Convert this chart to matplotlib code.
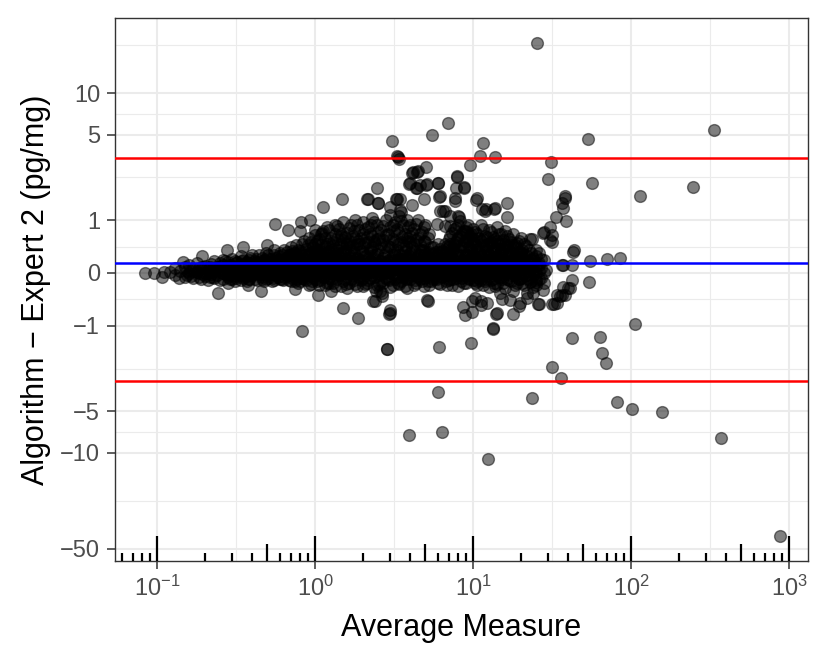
import numpy as np
import matplotlib
matplotlib.use("Agg")
import matplotlib.pyplot as plt
from matplotlib.ticker import FixedLocator, NullFormatter

plt.rcParams['font.family'] = ['Liberation Sans', 'DejaVu Sans']
plt.rcParams['mathtext.fontset'] = 'custom'
plt.rcParams['mathtext.rm'] = 'Liberation Sans'
plt.rcParams['mathtext.it'] = 'Liberation Sans:italic'

# dense core of the cloud: one x per column, several y per column
col_x = [0.12, 0.13, 0.14, 0.15, 0.16, 0.17, 0.18, 0.19, 0.2, 0.21, 0.22, 0.23, 0.24, 0.26, 0.28,
         0.3, 0.32, 0.34, 0.36, 0.38, 0.4, 0.43, 0.46, 0.49, 0.52, 0.55, 0.58, 0.62, 0.66, 0.7,
         0.74, 0.78, 0.83, 0.88, 0.94,
         1.0, 1.06, 1.12, 1.19, 1.26, 1.33, 1.41, 1.5, 1.6, 1.7, 1.8, 1.9, 2.0, 2.15, 2.3, 2.45,
         2.6, 2.8, 3.0, 3.2, 3.4, 3.6, 3.8,
         4.0, 4.25, 4.5, 4.75, 5.0, 5.3, 5.6, 6.0, 6.4, 6.8, 7.2, 7.6, 8.0, 8.5, 9.0, 9.5,
         10, 10.6, 11.2, 11.9, 12.6, 13.3, 14.1, 15, 16, 17, 18, 19, 20,
         21, 22.5, 24, 26, 28]
col_y = [[0.02], [-0.03, 0.08], [0.04], [-0.06, 0.1], [0.0, 0.14], [-0.08, 0.06], [0.02, 0.16],
         [-0.1, 0.08], [0.0, 0.12, -0.05], [0.06, -0.12], [0.15, -0.02], [0.04, -0.08, 0.2],
         [0.1, -0.04], [0.0, 0.14, -0.1, 0.22], [0.06, -0.06, 0.18],
         [0.0, 0.12, -0.1, 0.24], [0.06, -0.05, 0.18], [0.1, -0.12, 0.0, 0.28], [0.04, 0.16, -0.06],
         [0.12, -0.1, 0.22, 0.0], [0.06, -0.04, 0.3, 0.14], [0.0, 0.18, -0.12, 0.1],
         [0.08, -0.06, 0.26, 0.16], [0.02, 0.2, -0.1, 0.34], [0.1, -0.02, 0.24],
         [0.04, 0.16, -0.12, 0.3, 0.4], [0.12, -0.06, 0.22], [0.0, 0.18, 0.3, -0.1],
         [0.08, 0.36, -0.04, 0.2], [0.14, 0.02, 0.28, -0.14, 0.44], [0.06, 0.22, -0.06, 0.34],
         [0.12, 0.0, 0.4, -0.16, 0.26], [0.18, 0.06, 0.5, -0.08], [0.1, 0.3, -0.12, 0.42, 0.02],
         [0.2, 0.0, 0.55, -0.18, 0.36],
         [0.1, -0.1, 0.3, 0.0, 0.5, 0.68, 0.2], [0.04, 0.22, -0.2, 0.4, 0.6],
         [0.14, -0.06, 0.32, 0.75, 0.02], [0.08, 0.26, -0.16, 0.5, 0.85],
         [0.18, 0.0, 0.4, -0.1, 0.62], [0.1, 0.3, -0.22, 0.7, 0.05, 0.9],
         [0.2, -0.04, 0.45, 0.0, 0.8], [0.12, 0.35, -0.14, 0.58, 0.96],
         [0.06, 0.24, -0.26, 0.5, 0.72, 0.14], [0.16, 0.0, 0.4, 0.88, -0.1],
         [0.1, 0.3, -0.18, 0.62, 1.0], [0.2, 0.04, 0.5, -0.06, 0.78],
         [0.12, 0.34, -0.22, 0.7, 0.95, 0.0], [0.06, 0.26, -0.12, 0.55, 0.85],
         [0.18, -0.04, 0.44, 1.05, 0.66], [0.1, 0.32, -0.2, 0.6, 0.9, 0.0],
         [0.2, 0.02, 0.5, -0.14, 0.78], [0.08, 0.36, -0.08, 0.68, 1.0, 0.16],
         [0.14, 0.0, 0.44, -0.24, 0.84], [0.22, 0.06, 0.56, -0.1, 0.95, 0.32],
         [0.1, 0.3, -0.18, 0.72, 1.1], [0.18, 0.0, 0.48, -0.06, 0.88],
         [0.06, 0.26, -0.26, 0.62, 1.0, 0.14],
         [0.12, -0.1, 0.34, 0.66, 0.02, 0.9], [0.2, 0.0, 0.5, -0.2, 0.8],
         [0.08, 0.28, -0.06, 0.62, 1.0, 0.16], [0.16, -0.14, 0.4, 0.74],
         [0.06, 0.24, -0.04, 0.55, 0.9], [0.14, 0.0, 0.36, -0.2, 0.7], [0.2, 0.04, 0.45, -0.1],
         [0.1, 0.3, -0.16, 0.02, 0.5], [0.16, -0.06, 0.38, 0.06], [0.08, 0.24, -0.2, 0.46, 0.0],
         [0.14, 0.02, 0.4, -0.1, 0.66], [0.2, -0.04, 0.5, 0.8, 0.1],
         [0.06, 0.3, -0.22, 0.62, 0.9], [0.16, 0.0, 0.44, -0.08, 0.72],
         [0.1, 0.3, -0.16, 0.56, 0.84, 0.2], [0.18, -0.04, 0.4, 0.66, 0.04],
         [0.12, -0.12, 0.34, 0.6, 0.0, 0.8], [0.2, 0.04, 0.46, -0.2, 0.7],
         [0.08, 0.28, -0.06, 0.56, 0.9], [0.16, -0.14, 0.38, 0.66, 0.0],
         [0.1, 0.3, -0.24, 0.5, 0.78], [0.2, 0.0, 0.44, -0.1, 0.64],
         [0.06, 0.26, -0.18, 0.56, 0.84], [0.14, -0.06, 0.38, 0.7, 0.02],
         [0.22, 0.04, -0.26, 0.5, 0.76], [0.1, 0.32, -0.12, 0.6],
         [0.18, -0.02, 0.44, -0.3, 0.7], [0.06, 0.28, -0.16, 0.52], [0.14, -0.08, 0.36, 0.62],
         [0.1, -0.2, 0.3, 0.5], [0.2, -0.04, 0.4], [0.04, 0.26, -0.24], [0.14, -0.1, 0.34],
         [0.0, 0.22, -0.16]]

# second set of columns, between the first ones
col2_x = [0.155, 0.185, 0.215, 0.25, 0.27, 0.29, 0.31, 0.33, 0.35, 0.37, 0.39,
          0.415, 0.445, 0.475, 0.505, 0.535, 0.565, 0.6, 0.64, 0.68, 0.72, 0.76, 0.805, 0.855,
          0.91, 0.97, 1.03, 1.09, 1.155, 1.225, 1.295, 1.37, 1.455, 1.55, 1.65, 1.75, 1.85, 1.95,
          2.07, 2.22, 2.37, 2.52, 2.7, 2.9, 3.1, 3.3, 3.5, 3.7, 3.9,
          4.12, 4.37, 4.62, 4.87, 5.15, 5.45, 5.8, 6.2, 6.6, 7.0, 7.4, 7.8,
          8.25, 8.75, 9.25, 9.75,
          10.3, 10.9, 11.55, 12.25, 12.95, 13.7, 14.55, 15.5, 16.5, 17.5, 18.5, 19.5,
          20.5, 21.7, 23.2, 25, 27]
col2_y = [[0.04, -0.04], [0.08, -0.06, 0.0], [0.02, 0.1, -0.07], [0.05, -0.12, 0.16],
          [0.1, -0.02, 0.2], [0.0, -0.1, 0.13],
          [0.08, -0.14, 0.2, 0.02], [0.14, -0.02, 0.04], [0.0, 0.22, -0.08, 0.1],
          [0.08, -0.14, 0.18], [0.02, 0.14, -0.04, 0.26],
          [0.1, -0.1, 0.2, 0.04], [0.06, -0.02, 0.3, 0.14], [0.12, -0.14, 0.0, 0.22],
          [0.06, 0.16, -0.08, 0.3], [0.0, 0.12, 0.2, -0.14], [0.08, -0.04, 0.26, 0.16],
          [0.04, 0.14, -0.1, 0.34, 0.22], [0.1, -0.06, 0.24, 0.02, 0.4],
          [0.0, 0.16, -0.12, 0.3, 0.08], [0.1, -0.02, 0.22, 0.38, 0.04],
          [0.18, -0.1, 0.06, 0.3, 0.48], [0.02, 0.14, -0.14, 0.34, 0.24],
          [0.1, -0.04, 0.24, 0.56, 0.0], [0.04, 0.16, -0.2, 0.32, 0.62],
          [0.12, -0.06, 0.26, 0.44, 0.02],
          [0.06, 0.18, -0.14, 0.36, 0.56, 0.0], [0.12, -0.04, 0.28, 0.48, 0.7],
          [0.02, 0.2, -0.2, 0.38, 0.1, 0.62], [0.14, -0.08, 0.3, 0.52, 0.04, 0.78],
          [0.06, 0.22, -0.16, 0.46, 0.0], [0.16, -0.02, 0.34, 0.6, 0.08, 0.86],
          [0.04, 0.26, -0.22, 0.5, 0.7], [0.18, 0.0, 0.38, -0.1, 0.64, 0.1],
          [0.08, 0.3, -0.16, 0.56, 0.82, 0.02], [0.2, -0.04, 0.44, 0.66, 0.1],
          [0.04, 0.26, -0.22, 0.5, 0.9, 0.14], [0.14, 0.0, 0.38, 0.62, -0.12],
          [0.08, 0.28, -0.18, 0.52, 0.8, 0.02], [0.2, 0.02, 0.42, -0.08, 0.7, 0.12],
          [0.04, 0.3, -0.24, 0.56, 0.96], [0.16, -0.04, 0.4, 0.74, 0.06],
          [0.1, 0.26, -0.16, 0.58, 0.86, 0.0], [0.2, 0.02, 0.46, -0.1, 0.7, 0.12],
          [0.06, 0.3, -0.2, 0.6, 0.9, 0.0], [0.16, -0.06, 0.4, 0.8, 0.08],
          [0.04, 0.24, -0.14, 0.54, 0.98, 0.14], [0.2, 0.0, 0.38, 0.7, -0.22],
          [0.1, 0.3, -0.08, 0.56, 0.84, 0.02],
          [0.16, -0.04, 0.44, 0.72, 0.06], [0.04, 0.26, -0.16, 0.58, 0.92, 0.12],
          [0.2, 0.0, 0.4, -0.1, 0.7], [0.08, 0.3, -0.22, 0.56, 0.84, 0.16],
          [0.14, -0.04, 0.34, 0.62, 0.02], [0.06, 0.24, -0.14, 0.44, 0.1],
          [0.18, 0.0, 0.36, -0.08, 0.1], [0.04, 0.22, -0.18, 0.42, 0.12],
          [0.14, -0.04, 0.3, 0.5, 0.02], [0.08, 0.24, -0.12, 0.44, 0.6, 0.16],
          [0.18, 0.0, 0.36, -0.2, 0.72], [0.06, 0.28, -0.08, 0.54, 0.82, 0.14],
          [0.14, -0.04, 0.4, 0.66, 0.02], [0.22, 0.04, 0.5, -0.16, 0.76, 0.1],
          [0.08, 0.3, -0.08, 0.6, 0.9], [0.16, -0.02, 0.42, 0.7, 0.04, 0.24],
          [0.06, 0.26, -0.16, 0.5, 0.74, 0.14], [0.18, 0.0, 0.38, -0.08, 0.62],
          [0.1, 0.3, -0.2, 0.48, 0.8, 0.02], [0.2, -0.04, 0.4, 0.64, 0.12],
          [0.06, 0.24, -0.12, 0.54, 0.74], [0.16, 0.0, 0.36, -0.22, 0.6, 0.08],
          [0.1, 0.3, -0.06, 0.48, 0.7], [0.2, 0.02, 0.4, -0.16, 0.58, 0.12],
          [0.08, 0.26, -0.1, 0.46, 0.66], [0.16, -0.04, 0.34, 0.54, 0.04],
          [0.1, 0.28, -0.2, 0.48], [0.2, 0.0, 0.36, -0.1, 0.56],
          [0.06, 0.24, -0.16, 0.4], [0.14, -0.04, 0.3, 0.46], [0.06, 0.22, -0.14, 0.34],
          [0.14, 0.0, -0.2, 0.28], [0.08, -0.08, 0.24]]

# third set of columns, filling the solid band
col3_x = [0.165, 0.195, 0.225, 0.255, 0.285, 0.315, 0.345, 0.38, 0.42, 0.46,
          0.5, 0.54, 0.59, 0.63, 0.67, 0.71, 0.75, 0.8, 0.85, 0.9,
          0.96, 1.02, 1.08, 1.15, 1.22, 1.3, 1.38, 1.47, 1.57, 1.67,
          1.77, 1.88, 2.0, 2.12, 2.25, 2.4, 2.55, 2.75, 2.95, 3.15,
          3.35, 3.55, 3.75, 4.0, 4.3, 4.6, 4.9, 5.2, 5.5, 5.9,
          6.3, 6.7, 7.1, 7.5, 7.9, 8.4, 8.9, 9.4, 10.0, 10.6,
          11.3, 12.0, 12.8, 13.6, 14.4, 15.3, 16.3, 17.3, 18.3, 19.4,
          20.8, 22.3, 24.0, 26.0]
col3_y = [[0.03, -0.05], [0.1, -0.02], [-0.06, 0.08], [0.02, 0.12], [-0.04, 0.1],
          [0.04, -0.08, 0.16], [0.1, -0.04, 0.2], [0.06, -0.1, 0.16], [0.0, 0.12, 0.24],
          [0.04, -0.1, 0.18],
          [0.1, -0.04, 0.26], [0.06, -0.08, 0.18], [0.0, 0.1, 0.28], [0.06, -0.12, 0.2],
          [0.12, -0.02, 0.26], [0.04, -0.08, 0.2, 0.32], [0.1, -0.14, 0.0, 0.28],
          [0.06, 0.2, -0.06, 0.38], [0.14, -0.1, 0.02, 0.3], [0.08, 0.22, -0.04, 0.48],
          [0.02, 0.16, -0.14, 0.34], [0.14, -0.02, 0.26, 0.42], [0.08, 0.18, -0.12, 0.34],
          [0.0, 0.24, 0.1, 0.46], [0.06, -0.16, 0.2, 0.36], [0.12, 0.0, 0.28, 0.54],
          [0.04, -0.1, 0.22, 0.4], [0.1, 0.3, -0.02, 0.66], [0.02, 0.16, -0.18, 0.44],
          [0.12, 0.26, 0.0, 0.5],
          [0.06, -0.12, 0.34, 0.76], [0.14, 0.0, 0.24, 0.56], [0.04, 0.2, -0.08, 0.46],
          [0.12, -0.16, 0.3, 0.64], [0.02, 0.16, 0.38, 0.88], [0.1, -0.06, 0.24, 0.5],
          [0.06, 0.2, -0.18, 0.62], [0.14, 0.0, 0.3, 0.44], [0.04, 0.22, -0.12, 0.58],
          [0.12, -0.02, 0.36, 0.76],
          [0.06, 0.2, -0.16, 0.5], [0.14, 0.02, 0.3, 0.64], [0.04, 0.24, -0.1, 0.46],
          [0.1, -0.04, 0.28, 0.54], [0.06, 0.18, -0.12, 0.38], [0.12, 0.0, 0.3, 0.5],
          [0.04, 0.22, -0.08, 0.4], [0.1, -0.14, 0.26, 0.04], [0.16, 0.02, 0.32, -0.06],
          [0.06, 0.2, -0.1, 0.28],
          [0.12, 0.0, 0.26, 0.36], [0.04, 0.18, -0.14, 0.32], [0.1, -0.02, 0.28, 0.5],
          [0.06, 0.22, -0.1, 0.42], [0.14, 0.0, 0.32, 0.6], [0.04, 0.2, -0.14, 0.48],
          [0.12, -0.04, 0.3, 0.56], [0.06, 0.22, -0.1, 0.44], [0.14, 0.0, 0.3, 0.52],
          [0.04, 0.18, -0.14, 0.4],
          [0.12, -0.04, 0.28, 0.58], [0.06, 0.22, -0.1, 0.46], [0.14, 0.0, 0.3, 0.52],
          [0.04, 0.18, -0.16, 0.4], [0.12, -0.04, 0.28, 0.5], [0.06, 0.22, -0.1, 0.42],
          [0.14, 0.0, 0.3, 0.48], [0.04, 0.18, -0.14, 0.36], [0.12, -0.04, 0.26, 0.44],
          [0.06, 0.2, -0.1, 0.34],
          [0.12, 0.0, 0.26], [0.04, 0.18, -0.1], [0.1, -0.04, 0.22], [0.04, 0.16]]

# scattered points outside the core
out_x = [0.084, 0.095, 0.107, 0.11, 0.138, 0.147, 0.192, 0.244, 0.283, 0.375, 0.454, 0.276, 0.352,
         0.494, 0.558, 0.747, 0.831, 1.05, 1.26, 1.51, 1.86, 2.98, 2.4, 2.64, 2.85, 1.13, 1.49,
         2.15, 2.46, 2.49, 3.29, 3.5, 4.09, 3.93, 3.34, 0.815, 0.93, 0.678, 0.8, 1.0, 1.11,
         25.3, 6.98, 5.5, 3.07, 3.3, 3.38, 11.6, 11.1, 13.8, 9.6, 5.04, 4.17, 4.42, 3.99, 4.4,
         5.04, 6.03, 7.92, 8.82, 4.9, 6.12, 3.45, 3.45, 4.09, 7.72, 6.48, 10.5, 11.4, 12.1, 13.6,
         16.3, 16.5, 8.1, 9.0, 7.1, 5.9, 31.3, 29.6, 53.7, 56.8, 38.2, 36.5, 33.3, 38.6, 28.2,
         31.4, 30.6, 43.5, 23.5, 114, 248, 337, 55, 70.2, 85,
         4.51, 4.36, 5.1, 7.87, 8.78, 2.12, 2.52, 3.25, 2.98, 6.19, 7.69, 10.6, 11.9, 8.09, 9.1,
         6.19, 6.64, 38.4, 29, 37.3, 42, 41, 35.5, 32.4, 26.3, 24, 22.9,
         2.43, 2.58, 2.34, 2.95, 5.1, 8.7, 8.9, 9.8, 10.3, 11.3, 14.1, 18.0, 19.4, 15.2,
         42.7, 36.5, 42, 54.5, 40, 36.5, 33.8, 31.4, 25.9, 25.2, 21.8, 13.9, 13.3, 13.4, 9.9,
         11.3, 5.16, 6.13, 9.67, 42, 63.7, 65.1, 69.6, 105.5, 31.4, 35.8, 6.03, 23.5, 80.9, 102,
         158, 3.96, 6.35, 12.5, 369, 877, 2.84,
         4.6, 6.0, 7.8, 13.8, 2.98, 7.14, 8.25, 6.64, 37.3, 30.7, 27.9, 22.9, 25.2, 31.4,
         2.64, 2.98, 11.1, 14.9, 17.1, 19.8, 21.8, 25.2, 27.9, 38.2, 37.3, 12.2, 33.8]
out_y = [0.0, 0.005, -0.06, 0.01, -0.09, 0.19, 0.29, -0.335, -0.16, -0.2, -0.3, 0.40, 0.445,
         0.49, 0.91, -0.27, -1.14, -0.38, -0.3, -0.62, -0.83, -0.72, -0.48, -0.34, -1.64, 1.34, 1.56,
         1.56, 1.95, 1.44, 1.56, 1.21, 2.54, 2.11, 3.4, 0.96, 1.0, 0.78, 0.77, 0.78, 0.72,
         23.4, 6.11, 4.99, 4.45, 3.45, 3.3, 4.35, 3.48, 3.38, 2.95, 2.83, 2.6, 2.62, 2.13, 1.95,
         2.04, 2.14, 2.41, 1.97, 1.56, 1.63, 1.57, 1.25, 1.39, 1.51, 1.23, 1.54, 1.27, 1.27, 1.29,
         1.46, 1.07, 1.07, 0.76, 0.86, 0.92, 3.1, 2.3, 4.66, 2.14, 1.61, 1.45, 1.07, 0.97, 0.74,
         0.67, 0.57, 0.39, 0.6, 1.66, 2.0, 5.4, 0.205, 0.23, 0.245,
         2.65, 1.96, 2.08, 2.38, 1.96, 1.56, 1.44, 1.56, 1.34, 1.66, 1.6, 1.6, 1.22, 1.1, 0.74,
         1.22, 1.22, 1.66, 0.05, 0.13, -0.12, -0.26, -0.40, -0.54, -0.54, -0.34, -0.145,
         -0.31, -0.31, -0.48, -0.73, -0.47, -0.59, -0.77, -0.48, -0.43, -0.48, -0.72, -0.75, -0.58,
         -0.45,
         0.36, 0.133, 0.133, -0.145, -0.256, -0.37, -0.37, -0.54, -0.54, -0.145, -0.43, -0.74,
         -1.07, -1.05, -0.69, -0.56, -0.48, -1.59, -1.46, -1.31, -1.28, -1.78, -2.14, -0.97, -2.3,
         -2.78, -3.58, -3.97, -4.23, -4.82, -5.02, -7.4, -7.04, -11.1, -7.87, -40.6, -1.65,
         2.04, 2.12, 1.96, 1.32, 1.12, 1.11, 0.99, 0.86, 1.3, 0.84, 0.72, 0.6, 0.4, 0.54,
         -0.4, -0.65, -0.12, -0.34, -0.46, -0.52, -0.34, -0.12, -0.29, -0.37, -0.23, -0.52, -0.52]

mean_diff = 0.175
loa_upper = 3.33
loa_lower = -2.98

y_breaks = [-50, -10, -5, -1, 0, 1, 5, 10]
y_labels = ['\u221250', '\u221210', '\u22125', '\u22121', '0', '1', '5', '10']
x_breaks = [0.1, 1, 10, 100, 1000]
x_labels = [r'$10^{-1}$', r'$10^{0}$', r'$10^{1}$', r'$10^{2}$', r'$10^{3}$']

assert len(col_x) == len(col_y) and len(col2_x) == len(col2_y)
assert len(col3_x) == len(col3_y) and len(out_x) == len(out_y)

cols_x = col_x + col2_x + col3_x
cols_y = col_y + col2_y + col3_y
core_x = [x for x, ys in zip(cols_x, cols_y) for _ in ys]
core_y = [y for ys in cols_y for y in ys]
all_x = np.array(core_x + out_x)
all_y = np.array(core_y + out_y)

fig = plt.figure(figsize=(8.3, 6.64), dpi=100)
ax = fig.add_axes([115 / 830, 103 / 664, 693 / 830, 543 / 664])

ax.set_xscale('log')
ax.set_yscale('function', functions=(np.arcsinh, np.sinh))
ax.set_xlim(0.0542, 1318)
ax.set_ylim(np.sinh(-4.81), np.sinh(4.258))

ax.scatter(all_x, all_y, s=72, facecolor=(0, 0, 0, 0.5), edgecolor=(0, 0, 0, 0.5),
           linewidths=1.0, zorder=3)

ax.axhline(mean_diff, color='#0000FF', lw=1.8, zorder=4)
ax.axhline(loa_upper, color='#FF0000', lw=1.8, zorder=4)
ax.axhline(loa_lower, color='#FF0000', lw=1.8, zorder=4)

# log ticks along the bottom
trans = ax.get_xaxis_transform()
for k in range(-2, 4):
    for m in range(1, 10):
        xv = m * 10.0 ** k
        if xv < 0.0542 or xv > 1318:
            continue
        h = 25 / 543 if m == 1 else (17 / 543 if m == 5 else 8 / 543)
        ax.plot([xv, xv], [0, h], color='black', lw=1.6, transform=trans,
                solid_capstyle='butt', zorder=5, clip_on=False)

# grids
ax.xaxis.set_major_locator(FixedLocator(x_breaks))
ax.set_xticklabels(x_labels)
ax.xaxis.set_minor_locator(FixedLocator([10 ** -0.5, 10 ** 0.5, 10 ** 1.5, 10 ** 2.5]))
ax.xaxis.set_minor_formatter(NullFormatter())

t = np.arcsinh(np.array(y_breaks, dtype=float))
mids = list((t[:-1] + t[1:]) / 2) + [t[-1] + (t[1] - t[0]) / 2]
ax.yaxis.set_major_locator(FixedLocator(y_breaks))
ax.set_yticklabels(y_labels)
ax.yaxis.set_minor_locator(FixedLocator(np.sinh(mids)))
ax.yaxis.set_minor_formatter(NullFormatter())

ax.grid(which='major', color='#EBEBEB', lw=1.5, zorder=0)
ax.grid(which='minor', color='#EBEBEB', lw=0.8, zorder=0)
ax.set_axisbelow(True)

ax.tick_params(which='major', length=5.8, width=1.1, color='#333333', labelcolor='#4D4D4D',
               labelsize=17, pad=5)
ax.tick_params(which='minor', length=0)
for sp in ax.spines.values():
    sp.set_color('#333333')
    sp.set_linewidth(1.0)

ax.set_xlabel('Average Measure', fontsize=22, va='center')
ax.set_ylabel('Algorithm \u2212 Expert 2 (pg/mg)', fontsize=22, va='center')
ax.xaxis.set_label_coords(0.5, -0.1234)
ax.yaxis.set_label_coords(-0.114, 0.5)

fig.savefig('out.png', dpi=100)
